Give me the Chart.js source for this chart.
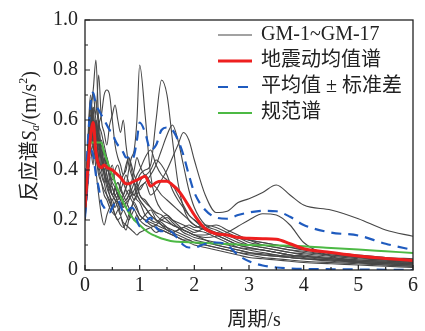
<!DOCTYPE html>
<html>
<head>
<meta charset="utf-8">
<script src="https://cdn.jsdelivr.net/npm/chart.js@4.4.0/dist/chart.umd.min.js"></script>
<style>
  html, body { margin: 0; padding: 0; background: #fff; }
  #wrap { width: 425px; height: 331px; position: relative; }
</style>
</head>
<body>
<div id="wrap"><canvas id="chart"></canvas></div>
<script>
// periods (s) shared by every spectrum
const periods = [0, 0.05, 0.1, 0.15, 0.2, 0.25, 0.3, 0.35, 0.4, 0.45, 0.5, 0.55, 0.6, 0.65, 0.7, 0.75, 0.8, 0.85, 0.9, 0.95, 1.0,
    1.1, 1.2, 1.3, 1.4, 1.5, 1.6, 1.7, 1.8, 1.9, 2.0, 2.2, 2.4, 2.6, 2.8, 3.0, 3.25, 3.5, 3.75, 4.0, 4.5, 5.0, 5.5, 6.0];

// --- ground motion spectra GM-1 ~ GM-17 ---
const gm1 = [0.24, 0.40, 0.55, 0.48, 0.58, 0.45, 0.50, 0.40, 0.36, 0.34, 0.33, 0.30, 0.31, 0.28, 0.30, 0.33, 0.35, 0.31, 0.30, 0.33, 0.32,
    0.35, 0.30, 0.32, 0.36, 0.40, 0.45, 0.50, 0.55, 0.52, 0.44, 0.30, 0.23, 0.235, 0.27, 0.285, 0.31, 0.34, 0.30, 0.26, 0.24, 0.205, 0.16, 0.135];
const gm2 = [0.20, 0.33, 0.48, 0.42, 0.60, 0.50, 0.40, 0.45, 0.38, 0.34, 0.30, 0.28, 0.27, 0.26, 0.25, 0.27, 0.28, 0.30, 0.30, 0.28, 0.27,
    0.22, 0.20, 0.19, 0.21, 0.22, 0.20, 0.18, 0.16, 0.15, 0.14, 0.13, 0.135, 0.15, 0.175, 0.20, 0.225, 0.22, 0.18, 0.11, 0.055, 0.03, 0.02, 0.015];
const gm3 = [0.25, 0.40, 0.55, 0.62, 0.50, 0.60, 0.45, 0.40, 0.42, 0.36, 0.30, 0.33, 0.35, 0.32, 0.30, 0.33, 0.40, 0.45, 0.48, 0.60, 0.82,
    0.62, 0.38, 0.28, 0.24, 0.22, 0.20, 0.19, 0.18, 0.17, 0.16, 0.15, 0.13, 0.11, 0.09, 0.08, 0.07, 0.06, 0.055, 0.05, 0.04, 0.03, 0.025, 0.02];
const gm4 = [0.22, 0.38, 0.50, 0.45, 0.55, 0.42, 0.38, 0.35, 0.40, 0.38, 0.33, 0.30, 0.28, 0.30, 0.27, 0.25, 0.28, 0.30, 0.32, 0.35, 0.38,
    0.40, 0.42, 0.60, 0.76, 0.70, 0.52, 0.35, 0.25, 0.20, 0.18, 0.16, 0.14, 0.12, 0.10, 0.09, 0.08, 0.07, 0.06, 0.055, 0.045, 0.035, 0.03, 0.025];
const gm5 = [0.25, 0.42, 0.60, 0.55, 0.48, 0.52, 0.42, 0.38, 0.33, 0.30, 0.28, 0.30, 0.27, 0.25, 0.28, 0.30, 0.32, 0.30, 0.28, 0.30, 0.33,
    0.35, 0.38, 0.42, 0.48, 0.54, 0.58, 0.52, 0.42, 0.32, 0.25, 0.18, 0.16, 0.14, 0.12, 0.10, 0.09, 0.08, 0.07, 0.065, 0.055, 0.045, 0.04, 0.035];
const gm6 = [0.28, 0.50, 0.65, 0.72, 0.84, 0.60, 0.55, 0.50, 0.45, 0.40, 0.42, 0.35, 0.30, 0.28, 0.25, 0.27, 0.25, 0.22, 0.20, 0.22, 0.20,
    0.18, 0.17, 0.15, 0.16, 0.15, 0.14, 0.13, 0.12, 0.12, 0.11, 0.10, 0.09, 0.08, 0.07, 0.065, 0.06, 0.055, 0.05, 0.045, 0.04, 0.03, 0.025, 0.02];
const gm7 = [0.22, 0.45, 0.60, 0.70, 0.62, 0.78, 0.60, 0.55, 0.50, 0.58, 0.62, 0.66, 0.60, 0.55, 0.60, 0.50, 0.42, 0.38, 0.35, 0.33, 0.30,
    0.27, 0.25, 0.22, 0.20, 0.19, 0.18, 0.17, 0.16, 0.15, 0.14, 0.12, 0.10, 0.09, 0.08, 0.07, 0.065, 0.06, 0.05, 0.045, 0.035, 0.03, 0.025, 0.02];
const gm8 = [0.25, 0.40, 0.55, 0.65, 0.50, 0.58, 0.62, 0.70, 0.72, 0.70, 0.60, 0.50, 0.45, 0.42, 0.38, 0.42, 0.45, 0.40, 0.35, 0.30, 0.28,
    0.25, 0.22, 0.20, 0.18, 0.17, 0.16, 0.15, 0.14, 0.13, 0.12, 0.11, 0.10, 0.09, 0.08, 0.07, 0.06, 0.055, 0.05, 0.045, 0.04, 0.035, 0.03, 0.025];
const gm9 = [0.20, 0.50, 0.70, 0.55, 0.40, 0.30, 0.22, 0.18, 0.22, 0.25, 0.28, 0.25, 0.27, 0.22, 0.18, 0.16, 0.20, 0.25, 0.28, 0.30, 0.28,
    0.25, 0.22, 0.20, 0.19, 0.17, 0.15, 0.14, 0.13, 0.12, 0.11, 0.10, 0.09, 0.08, 0.07, 0.06, 0.05, 0.045, 0.04, 0.035, 0.03, 0.025, 0.02, 0.015];
const gm10 = [0.30, 0.45, 0.65, 0.50, 0.45, 0.38, 0.35, 0.32, 0.30, 0.28, 0.25, 0.27, 0.30, 0.35, 0.38, 0.40, 0.45, 0.42, 0.38, 0.35, 0.30,
    0.28, 0.25, 0.23, 0.22, 0.20, 0.18, 0.17, 0.16, 0.15, 0.14, 0.14, 0.15, 0.14, 0.13, 0.12, 0.11, 0.10, 0.09, 0.085, 0.07, 0.06, 0.05, 0.045];
const gm11 = [0.22, 0.35, 0.55, 0.62, 0.68, 0.55, 0.45, 0.38, 0.35, 0.32, 0.30, 0.28, 0.25, 0.22, 0.24, 0.22, 0.20, 0.22, 0.24, 0.22, 0.20,
    0.22, 0.24, 0.20, 0.18, 0.16, 0.15, 0.16, 0.17, 0.18, 0.17, 0.18, 0.17, 0.15, 0.13, 0.11, 0.10, 0.09, 0.08, 0.075, 0.06, 0.05, 0.04, 0.035];
const gm12 = [0.25, 0.42, 0.58, 0.65, 0.60, 0.45, 0.40, 0.35, 0.30, 0.27, 0.25, 0.22, 0.20, 0.21, 0.19, 0.18, 0.17, 0.16, 0.15, 0.14, 0.15,
    0.16, 0.17, 0.18, 0.20, 0.21, 0.19, 0.17, 0.15, 0.14, 0.13, 0.12, 0.11, 0.10, 0.09, 0.085, 0.08, 0.07, 0.06, 0.055, 0.045, 0.04, 0.035, 0.03];
const gm13 = [0.28, 0.48, 0.62, 0.58, 0.50, 0.55, 0.48, 0.42, 0.45, 0.40, 0.36, 0.40, 0.42, 0.38, 0.35, 0.32, 0.30, 0.28, 0.26, 0.24, 0.22,
    0.20, 0.19, 0.18, 0.17, 0.16, 0.15, 0.16, 0.17, 0.16, 0.15, 0.17, 0.18, 0.16, 0.14, 0.12, 0.10, 0.09, 0.08, 0.07, 0.06, 0.05, 0.045, 0.04];
const gm14 = [0.23, 0.40, 0.52, 0.60, 0.55, 0.48, 0.52, 0.45, 0.38, 0.33, 0.30, 0.32, 0.35, 0.33, 0.30, 0.28, 0.30, 0.35, 0.40, 0.45, 0.42,
    0.38, 0.40, 0.44, 0.42, 0.38, 0.32, 0.28, 0.25, 0.22, 0.20, 0.16, 0.14, 0.12, 0.10, 0.09, 0.08, 0.07, 0.06, 0.055, 0.045, 0.035, 0.03, 0.025];
const gm15 = [0.20, 0.36, 0.50, 0.55, 0.45, 0.40, 0.35, 0.30, 0.28, 0.25, 0.23, 0.22, 0.24, 0.25, 0.27, 0.28, 0.30, 0.32, 0.35, 0.38, 0.40,
    0.45, 0.48, 0.42, 0.38, 0.36, 0.34, 0.30, 0.26, 0.22, 0.20, 0.17, 0.15, 0.13, 0.11, 0.10, 0.09, 0.08, 0.07, 0.06, 0.05, 0.04, 0.035, 0.03];
const gm16 = [0.26, 0.44, 0.58, 0.50, 0.60, 0.52, 0.45, 0.40, 0.35, 0.30, 0.26, 0.22, 0.20, 0.18, 0.17, 0.19, 0.22, 0.25, 0.27, 0.25, 0.22,
    0.20, 0.18, 0.17, 0.16, 0.15, 0.14, 0.13, 0.12, 0.11, 0.10, 0.09, 0.08, 0.07, 0.06, 0.05, 0.045, 0.04, 0.035, 0.03, 0.025, 0.02, 0.015, 0.01];
const gm17 = [0.24, 0.45, 0.68, 0.60, 0.52, 0.50, 0.45, 0.48, 0.42, 0.38, 0.35, 0.33, 0.30, 0.32, 0.35, 0.38, 0.35, 0.32, 0.30, 0.32, 0.35,
    0.38, 0.35, 0.33, 0.30, 0.28, 0.26, 0.24, 0.22, 0.20, 0.18, 0.16, 0.15, 0.14, 0.13, 0.12, 0.11, 0.10, 0.09, 0.08, 0.065, 0.05, 0.04, 0.035];
const gmSeries = [gm1, gm2, gm3, gm4, gm5, gm6, gm7, gm8, gm9, gm10, gm11, gm12, gm13, gm14, gm15, gm16, gm17];

// --- mean, mean +/- std, code spectrum ---
const meanSpec = [0.25, 0.40, 0.53, 0.59, 0.47, 0.42, 0.41, 0.42, 0.41, 0.405, 0.40, 0.39, 0.38, 0.37, 0.355, 0.345, 0.345, 0.35, 0.355, 0.36, 0.365,
    0.375, 0.335, 0.35, 0.355, 0.355, 0.34, 0.32, 0.29, 0.255, 0.22, 0.165, 0.145, 0.14, 0.13, 0.127, 0.125, 0.123, 0.105, 0.085, 0.07, 0.056, 0.046, 0.038];
const meanPlusStd = [0.30, 0.50, 0.66, 0.71, 0.66, 0.64, 0.62, 0.60, 0.58, 0.56, 0.55, 0.52, 0.50, 0.49, 0.47, 0.45, 0.45, 0.44, 0.46, 0.52, 0.59,
    0.55, 0.48, 0.50, 0.56, 0.57, 0.56, 0.52, 0.46, 0.38, 0.31, 0.24, 0.21, 0.205, 0.22, 0.23, 0.237, 0.235, 0.213, 0.18, 0.15, 0.138, 0.105, 0.08];
const meanMinusStd = [0.21, 0.35, 0.48, 0.46, 0.38, 0.33, 0.27, 0.25, 0.23, 0.23, 0.25, 0.27, 0.28, 0.26, 0.23, 0.23, 0.24, 0.25, 0.24, 0.20, 0.175,
    0.19, 0.21, 0.17, 0.155, 0.16, 0.15, 0.125, 0.10, 0.09, 0.09, 0.105, 0.11, 0.10, 0.06, 0.035, 0.018, 0.01, 0.006, 0.004, 0.003, 0.002, 0.001, 0];
const codeSpec = [0.30, 0.41, 0.51, 0.51, 0.51, 0.51, 0.51, 0.47, 0.44, 0.41, 0.38, 0.35, 0.32, 0.295, 0.27, 0.25, 0.23, 0.215, 0.20, 0.19, 0.18,
    0.16, 0.145, 0.135, 0.126, 0.12, 0.115, 0.113, 0.112, 0.111, 0.11, 0.108, 0.106, 0.104, 0.102, 0.10, 0.099, 0.098, 0.097, 0.095, 0.088, 0.082, 0.075, 0.068];

const xTicks = [0, 1, 2, 3, 4, 5, 6];
const yTicks = [0, 0.2, 0.4, 0.6, 0.8, 1.0];
const legendLabels = ['GM-1~GM-17', '地震动均值谱', '平均值 ± 标准差', '规范谱'];

const serif = '"Liberation Serif", "Noto Sans CJK SC", serif';
const toPoints = (arr) => arr.map((v, i) => ({ x: periods[i], y: v }));

const datasets = [];
datasets.push({ data: toPoints(meanSpec), borderColor: '#ee1f1f', borderWidth: 3, order: 0 });
datasets.push({ data: toPoints(meanPlusStd), borderColor: '#1f5bbf', borderWidth: 2.2, borderDash: [10, 7], order: 1 });
datasets.push({ data: toPoints(meanMinusStd), borderColor: '#1f5bbf', borderWidth: 2.2, borderDash: [10, 7], order: 1 });
datasets.push({ data: toPoints(codeSpec), borderColor: '#4cb944', borderWidth: 2, order: 2, tension: 0 });
gmSeries.forEach((s) => {
    datasets.push({ data: toPoints(s), borderColor: '#474747', borderWidth: 1.1, order: 3 });
});

// frame, inward ticks, legend and axis titles
const decor = {
    id: 'decor',
    afterDraw(chart) {
        const { ctx, chartArea: a, scales } = chart;
        ctx.save();
        ctx.strokeStyle = '#222';
        ctx.lineWidth = 1.3;
        ctx.strokeRect(a.left, a.top, a.right - a.left, a.bottom - a.top);

        ctx.lineWidth = 1.2;
        ctx.beginPath();
        for (let v = 0; v <= 6.001; v += 0.5) {
            const px = scales.x.getPixelForValue(v);
            const len = Math.abs(v - Math.round(v)) < 0.01 ? 5 : 3;
            ctx.moveTo(px, a.bottom);
            ctx.lineTo(px, a.bottom - len);
        }
        for (let v = 0; v <= 1.001; v += 0.1) {
            const py = scales.y.getPixelForValue(v);
            const k = Math.round(v * 10);
            const len = k % 2 === 0 ? 5 : 3;
            ctx.moveTo(a.left, py);
            ctx.lineTo(a.left + len, py);
        }
        ctx.stroke();

        // legend
        const lx0 = 218, lx1 = 252, tx = 261;
        const rows = [35, 61, 87, 113];
        const styles = [
            { c: '#474747', w: 1.2, d: [] },
            { c: '#ee1f1f', w: 3, d: [] },
            { c: '#1f5bbf', w: 2.2, d: [10, 10] },
            { c: '#4cb944', w: 2, d: [] }
        ];
        ctx.textBaseline = 'middle';
        ctx.textAlign = 'left';
        ctx.fillStyle = '#222';
        ctx.font = '20px ' + serif;
        rows.forEach((y, i) => {
            ctx.beginPath();
            ctx.strokeStyle = styles[i].c;
            ctx.lineWidth = styles[i].w;
            ctx.setLineDash(styles[i].d);
            ctx.moveTo(lx0, y);
            ctx.lineTo(lx1, y);
            ctx.stroke();
            ctx.setLineDash([]);
            ctx.fillText(legendLabels[i], tx, y);
        });

        // x title
        ctx.textAlign = 'center';
        ctx.fillText('周期/s', 254, 321);

        // y title with subscript / superscript
        const parts = [
            { t: '反应谱', f: '20px ' + serif, dy: 0 },
            { t: 'S', f: 'italic 20px ' + serif, dy: 0 },
            { t: 'a', f: 'italic 12px ' + serif, dy: 5 },
            { t: '/(m/s', f: '20px ' + serif, dy: 0 },
            { t: '2', f: '12px ' + serif, dy: -7 },
            { t: ')', f: '20px ' + serif, dy: 0 }
        ];
        let total = 0;
        parts.forEach((p) => { ctx.font = p.f; p.w = ctx.measureText(p.t).width; total += p.w; });
        ctx.translate(31, 136);
        ctx.rotate(-Math.PI / 2);
        ctx.textAlign = 'left';
        let x = -total / 2;
        parts.forEach((p) => {
            ctx.font = p.f;
            ctx.fillText(p.t, x, p.dy);
            x += p.w;
        });
        ctx.restore();
    }
};

new Chart(document.getElementById('chart'), {
    type: 'line',
    data: { datasets },
    options: {
        responsive: true,
        maintainAspectRatio: false,
        animation: false,
        parsing: false,
        layout: { padding: { top: 20, right: 12, left: 0, bottom: 0 } },
        elements: {
            point: { radius: 0 },
            line: { cubicInterpolationMode: 'monotone', fill: false }
        },
        plugins: { legend: { display: false }, tooltip: { enabled: false } },
        scales: {
            x: {
                type: 'linear', min: 0, max: 6,
                afterBuildTicks: (s) => { s.ticks = xTicks.map((v) => ({ value: v })); },
                afterFit: (s) => { s.height = 61; },
                grid: { display: false, drawTicks: false },
                border: { display: false },
                ticks: { padding: 4, color: '#222', font: { family: serif, size: 20 }, maxRotation: 0 }
            },
            y: {
                type: 'linear', min: 0, max: 1,
                afterBuildTicks: (s) => { s.ticks = yTicks.map((v) => ({ value: v })); },
                afterFit: (s) => { s.width = 85; },
                grid: { display: false, drawTicks: false },
                border: { display: false },
                ticks: {
                    padding: 7, color: '#222', font: { family: serif, size: 20 },
                    callback: (v) => (v === 0 ? '0' : v.toFixed(1))
                }
            }
        }
    },
    plugins: [decor]
});
</script>
</body>
</html>
